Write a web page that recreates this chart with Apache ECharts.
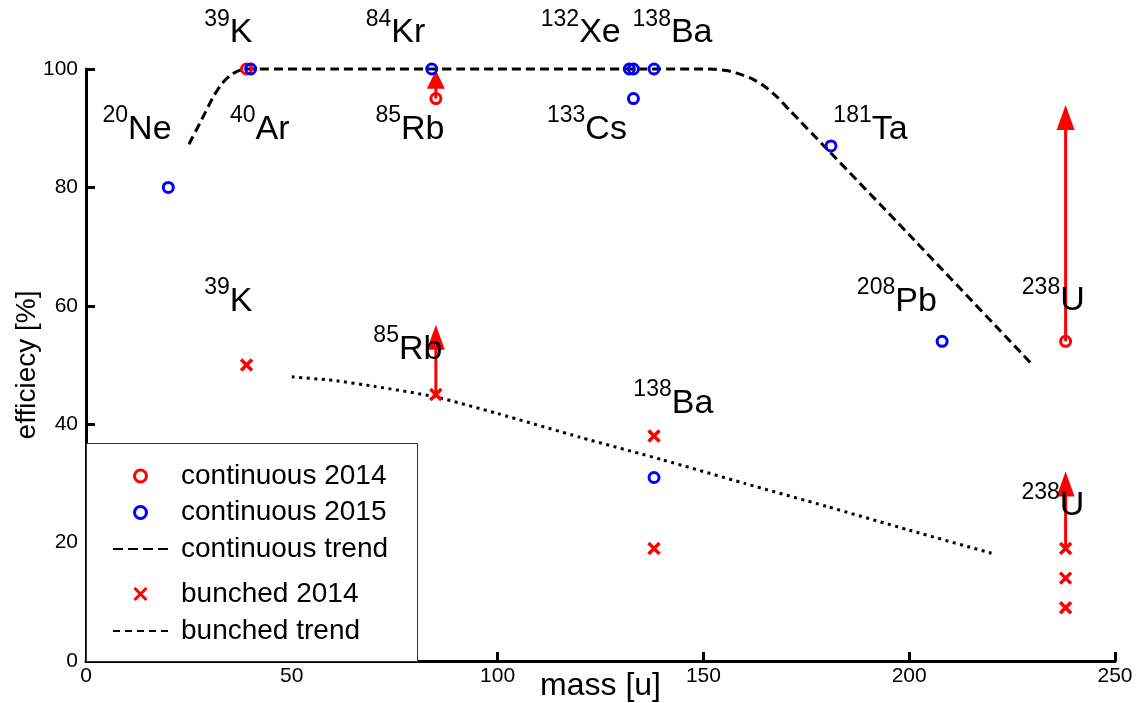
<!DOCTYPE html>
<html>
<head>
<meta charset="utf-8">
<title>efficiency vs mass</title>
<script src="https://cdn.jsdelivr.net/npm/echarts@6/dist/echarts.min.js"></script>
<style>
  html, body { margin: 0; padding: 0; background: #fff; }
  #chart { width: 1136px; height: 703px; }
</style>
</head>
<body>
<div id="chart"></div>
<script>
// data
var cont2014Mass = [39, 85, 238];
var cont2014Eff = [100, 95, 54];

var cont2015Mass = [20, 40, 84, 132, 133, 133, 138, 181, 208, 138];
var cont2015Eff = [80, 100, 100, 100, 100, 95, 100, 87, 54, 31];

var bunch2014Mass = [39, 85, 138, 138, 238, 238, 238];
var bunch2014Eff = [50, 45, 38, 19, 19, 14, 9];

// trend lines
var contTrendMass = [25, 28, 31, 33, 35, 37, 39, 60, 100, 150, 153, 156, 159, 162, 165, 168, 171, 180, 200, 230];
var contTrendEff = [87.3, 91.3, 95.4, 97.5, 98.9, 99.7, 100, 100, 100, 100, 99.95, 99.7, 99.1, 98.3, 97.0, 95.2, 93.0, 86.5, 72, 50];

var bunchTrendMass = [50, 60, 70, 85, 100, 120, 140, 160, 180, 200, 220];
var bunchTrendEff = [48, 47.4, 46.4, 44.6, 41.8, 37.8, 34.0, 30.0, 26.1, 22.1, 18.2];

// arrows (lower limits): mass, from, to
var arrowMass = [85, 85, 238, 238];
var arrowFrom = [95, 45, 54, 19];
var arrowTo = [99.8, 56.8, 93.9, 32.0];

// isotope annotations
var labelSup = ['39', '20', '40', '84', '85', '132', '138', '133', '181', '208', '238', '39', '85', '138', '238'];
var labelElem = ['K', 'Ne', 'Ar', 'Kr', 'Rb', 'Xe', 'Ba', 'Cs', 'Ta', 'Pb', 'U', 'K', 'Rb', 'Ba', 'U'];
var labelMass = [34.6, 12.4, 42.2, 75.2, 78.7, 120.2, 142.5, 121.7, 190.6, 197.0, 235.0, 34.6, 78.2, 142.7, 234.9];
var labelEff = [106.8, 90.5, 90.5, 106.8, 90.5, 106.8, 106.8, 90.5, 90.5, 61.4, 61.5, 61.4, 53.3, 44.2, 26.9];

var xTicks = [0, 250, 50];   // min, max, step
var yTicks = [0, 100, 20];

var FONT = "'Liberation Sans', Arial, sans-serif";

function pairs(xs, ys) {
  return xs.map(function (x, i) { return [x, ys[i]]; });
}

var myChart = echarts.init(document.getElementById('chart'));

function renderArrow(params, api) {
  var p0 = api.coord([api.value(0), api.value(1)]);
  var p1 = api.coord([api.value(0), api.value(2)]);
  var len = p0[1] - p1[1];
  var headLen = Math.min(25, len * 0.65);
  var half = 9;
  return {
    type: 'group',
    children: [
      {
        type: 'line',
        shape: { x1: p0[0], y1: p0[1], x2: p1[0], y2: p1[1] + headLen - 2 },
        style: { stroke: '#ff0000', lineWidth: 3 }
      },
      {
        type: 'polygon',
        shape: { points: [[p1[0], p1[1]], [p1[0] - half, p1[1] + headLen], [p1[0] + half, p1[1] + headLen]] },
        style: { fill: '#ff0000' }
      }
    ]
  };
}

var legendRich = {
  t: { fontSize: 28, lineHeight: 28, fontFamily: FONT, color: '#000', padding: [0, 0, 0, 8] }
};
var noDot = { color: 'rgba(0,0,0,0)', borderWidth: 0, opacity: 0 };

var option = {
  animation: false,
  backgroundColor: '#fff',
  grid: { left: 86, right: 21, top: 69, bottom: 42, containLabel: false, outerBoundsMode: 'none' },
  xAxis: {
    type: 'value',
    min: xTicks[0], max: xTicks[1], interval: xTicks[2],
    name: 'mass [u]',
    nameLocation: 'middle',
    nameGap: 9,
    nameMoveOverlap: false,
    nameTextStyle: { fontSize: 32, fontFamily: FONT, color: '#000' },
    axisLine: { show: true, lineStyle: { color: '#000', width: 3 } },
    axisTick: { show: true, inside: true, length: 9, lineStyle: { color: '#000', width: 3 } },
    axisLabel: { fontSize: 21, fontFamily: FONT, color: '#000', margin: 5 },
    splitLine: { show: false }
  },
  yAxis: {
    type: 'value',
    min: yTicks[0], max: yTicks[1], interval: yTicks[2],
    name: 'efficiecy [%]',
    nameLocation: 'middle',
    nameGap: 45,
    nameMoveOverlap: false,
    nameTextStyle: { fontSize: 28, fontFamily: FONT, color: '#000' },
    axisLine: { show: true, lineStyle: { color: '#000', width: 3 } },
    axisTick: { show: true, inside: true, length: 9, lineStyle: { color: '#000', width: 3 } },
    axisLabel: { fontSize: 21, fontFamily: FONT, color: '#000', margin: 8 },
    splitLine: { show: false }
  },
  graphic: [{
    type: 'rect',
    left: 86, top: 443,
    shape: { width: 331, height: 218 },
    style: { fill: '#fff', stroke: '#333', lineWidth: 1 },
    z: 5
  }],
  legend: [{
    data: [
      { name: 'continuous 2014', itemStyle: { borderWidth: 3 } },
      { name: 'continuous 2015', itemStyle: { borderWidth: 3 } },
      { name: 'continuous trend', itemStyle: noDot, lineStyle: { width: 2, type: [10, 5] } }
    ],
    orient: 'vertical',
    left: 112, top: 462,
    padding: 0,
    itemWidth: 55, itemHeight: 12, itemGap: 8.5,
    formatter: '{t|{name}}',
    textStyle: { rich: legendRich },
    z: 10
  }, {
    data: [
      { name: 'bunched 2014', itemStyle: { borderWidth: 3 } },
      { name: 'bunched trend', itemStyle: noDot, lineStyle: { width: 2, type: [7, 5] } }
    ],
    orient: 'vertical',
    left: 112, top: 580,
    padding: 0,
    itemWidth: 55, itemHeight: 12, itemGap: 9,
    formatter: '{t|{name}}',
    textStyle: { rich: legendRich },
    z: 10
  }],
  series: [
    {
      name: 'continuous trend',
      type: 'line',
      data: pairs(contTrendMass, contTrendEff),
      symbol: 'none',
      smooth: 0.2,
      clip: false,
      itemStyle: { color: '#000' },
      lineStyle: { color: '#000', width: 3, type: [9, 5] }
    },
    {
      name: 'bunched trend',
      type: 'line',
      data: pairs(bunchTrendMass, bunchTrendEff),
      symbol: 'none',
      smooth: 0.2,
      itemStyle: { color: '#000' },
      lineStyle: { color: '#000', width: 3, type: [3, 4.5] }
    },
    {
      type: 'custom',
      renderItem: renderArrow,
      data: arrowMass.map(function (m, i) { return [m, arrowFrom[i], arrowTo[i]]; }),
      clip: false,
      silent: true,
      z: 3
    },
    {
      name: 'continuous 2014',
      type: 'scatter',
      data: pairs(cont2014Mass, cont2014Eff),
      symbol: 'circle',
      symbolSize: 10,
      clip: false,
      itemStyle: { color: 'rgba(0,0,0,0)', borderColor: '#ff0000', borderWidth: 3, opacity: 1 },
      z: 4
    },
    {
      name: 'continuous 2015',
      type: 'scatter',
      data: pairs(cont2015Mass, cont2015Eff),
      symbol: 'circle',
      symbolSize: 10,
      clip: false,
      itemStyle: { color: 'rgba(0,0,0,0)', borderColor: '#0000ff', borderWidth: 3, opacity: 1 },
      z: 4
    },
    {
      name: 'bunched 2014',
      type: 'scatter',
      data: pairs(bunch2014Mass, bunch2014Eff),
      symbol: 'path://M0,0L10,10M10,0L0,10',
      symbolSize: 11,
      clip: false,
      itemStyle: { color: '#ff0000', borderColor: '#ff0000', borderWidth: 3.5, opacity: 1 },
      z: 4
    },
    {
      type: 'scatter',
      silent: true,
      clip: false,
      symbolSize: 1,
      itemStyle: { color: 'rgba(0,0,0,0)', opacity: 1 },
      data: labelMass.map(function (m, i) {
        return { value: [m, labelEff[i]], sup: labelSup[i], el: labelElem[i] };
      }),
      label: {
        show: true,
        position: 'inside',
        offset: [0, 4],
        color: '#000',
        opacity: 1,
        textBorderWidth: 0,
        formatter: function (p) { return '{s|' + p.data.sup + '}{m|' + p.data.el + '}'; },
        rich: {
          s: { fontSize: 23, lineHeight: 23, fontFamily: FONT, color: '#000', verticalAlign: 'bottom', padding: [0, 0, 19, 0] },
          m: { fontSize: 34, lineHeight: 34, fontFamily: FONT, color: '#000', verticalAlign: 'bottom' }
        }
      },
      z: 6
    }
  ]
};

myChart.setOption(option);
</script>
</body>
</html>
